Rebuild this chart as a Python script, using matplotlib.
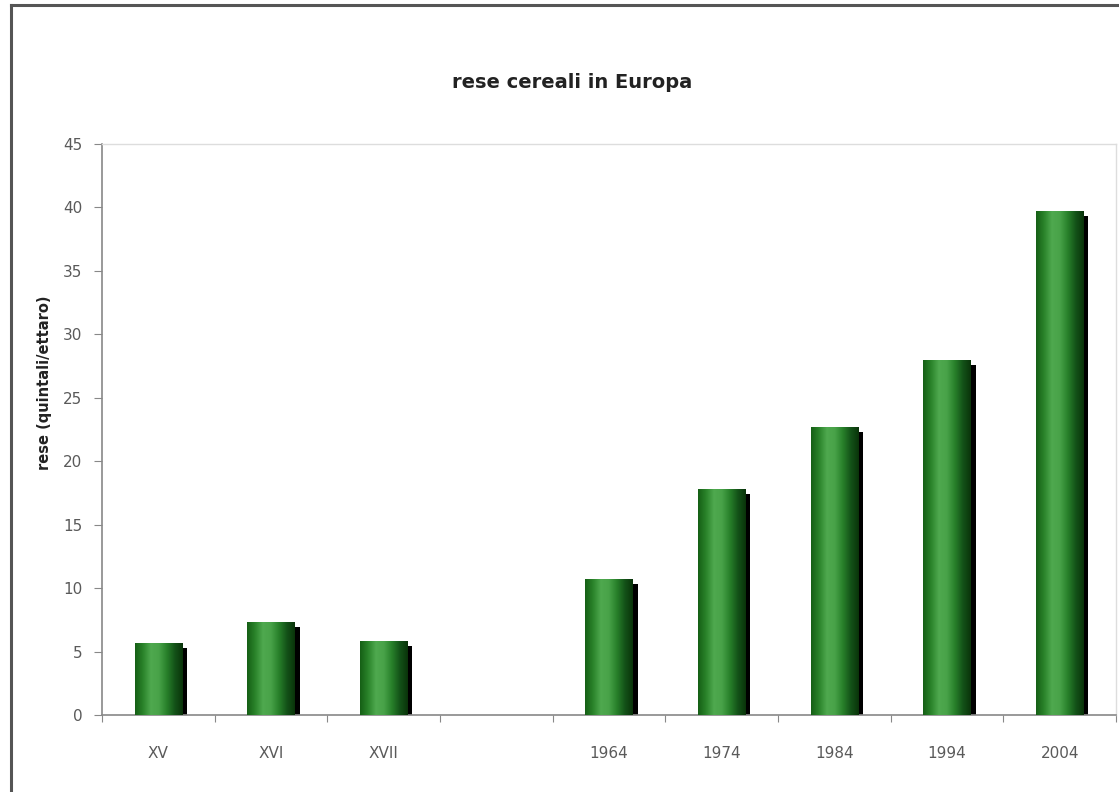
import numpy as np
import matplotlib.pyplot as plt
from matplotlib.colors import LinearSegmentedColormap
from matplotlib.lines import Line2D
import matplotlib.transforms as mtransforms

# Data
categories = ["XV", "XVI", "XVII", "", "1964", "1974", "1984", "1994", "2004"]
values = [5.7, 7.3, 5.8, np.nan, 10.7, 17.8, 22.7, 28.0, 39.7]
yticks = [0, 5, 10, 15, 20, 25, 30, 35, 40, 45]

plt.rcParams["font.family"] = "DejaVu Sans"

fig = plt.figure(figsize=(11.19, 7.92), dpi=100)
ax = fig.add_axes([102 / 1119, 1 - 715 / 792, 1014 / 1119, 571 / 792])

x = np.arange(len(categories))
width = 0.42
heights = np.nan_to_num(values)
present = ~np.isnan(values)

# dark shadow behind each bar (offset a few pixels right/down)
shadow_tr = mtransforms.offset_copy(ax.transData, fig=fig, x=5, y=-5, units="dots")
ax.bar(x[present], heights[present], width=width, color="black", transform=shadow_tr, zorder=2)

bars = ax.bar(x[present], heights[present], width=width, color="none", zorder=3)

# cylinder-like green gradient
cmap = LinearSegmentedColormap.from_list(
    "cyl", ["#155f15", "#2a832a", "#4fa94f", "#48a248", "#28802a", "#135218", "#0a330a"])
grad = np.linspace(0, 1, 256).reshape(1, -1)
for b in bars:
    x0, y0 = b.get_x(), b.get_y()
    im = ax.imshow(grad, cmap=cmap, aspect="auto", zorder=3,
                   extent=(x0, x0 + b.get_width(), y0, y0 + b.get_height()))
    im.set_clip_path(b)

ax.set_xlim(-0.5, len(categories) - 0.5)
ax.set_ylim(0, 45)

# axes styling
for side in ["left", "bottom"]:
    ax.spines[side].set_color("#888888")
    ax.spines[side].set_linewidth(1.2)
for side in ["top", "right"]:
    ax.spines[side].set_color("#dddddd")
    ax.spines[side].set_linewidth(1.0)

ax.set_yticks(yticks)
ax.tick_params(axis="y", direction="out", length=6, color="#888888",
               labelsize=11, labelcolor="#5a5a5a", pad=8)

ax.set_xticks(np.arange(len(categories) + 1) - 0.5)
ax.set_xticklabels([])
ax.set_xticks(x, minor=True)
ax.set_xticklabels(categories, minor=True)
ax.tick_params(axis="x", which="major", direction="out", length=5, color="#888888")
ax.tick_params(axis="x", which="minor", length=0, labelsize=11,
               labelcolor="#5a5a5a", pad=22)

fig.text(572 / 1119, 1 - 82 / 792, "rese cereali in Europa", ha="center", va="center",
         fontsize=14, fontweight="bold", color="#222222")
fig.text(45 / 1119, 1 - 383 / 792, "rese (quintali/ettaro)", ha="center", va="center",
         rotation=90, fontsize=10.5, fontweight="bold", color="#222222")

# outer frame (only left and top visible in the source image)
fig.add_artist(Line2D([11 / 1119, 11 / 1119], [0, 1 - 5 / 792], transform=fig.transFigure,
                      color="#555555", linewidth=2.2))
fig.add_artist(Line2D([11 / 1119, 1], [1 - 5 / 792, 1 - 5 / 792], transform=fig.transFigure,
                      color="#555555", linewidth=2.2))

fig.savefig("out.png", dpi=100)
